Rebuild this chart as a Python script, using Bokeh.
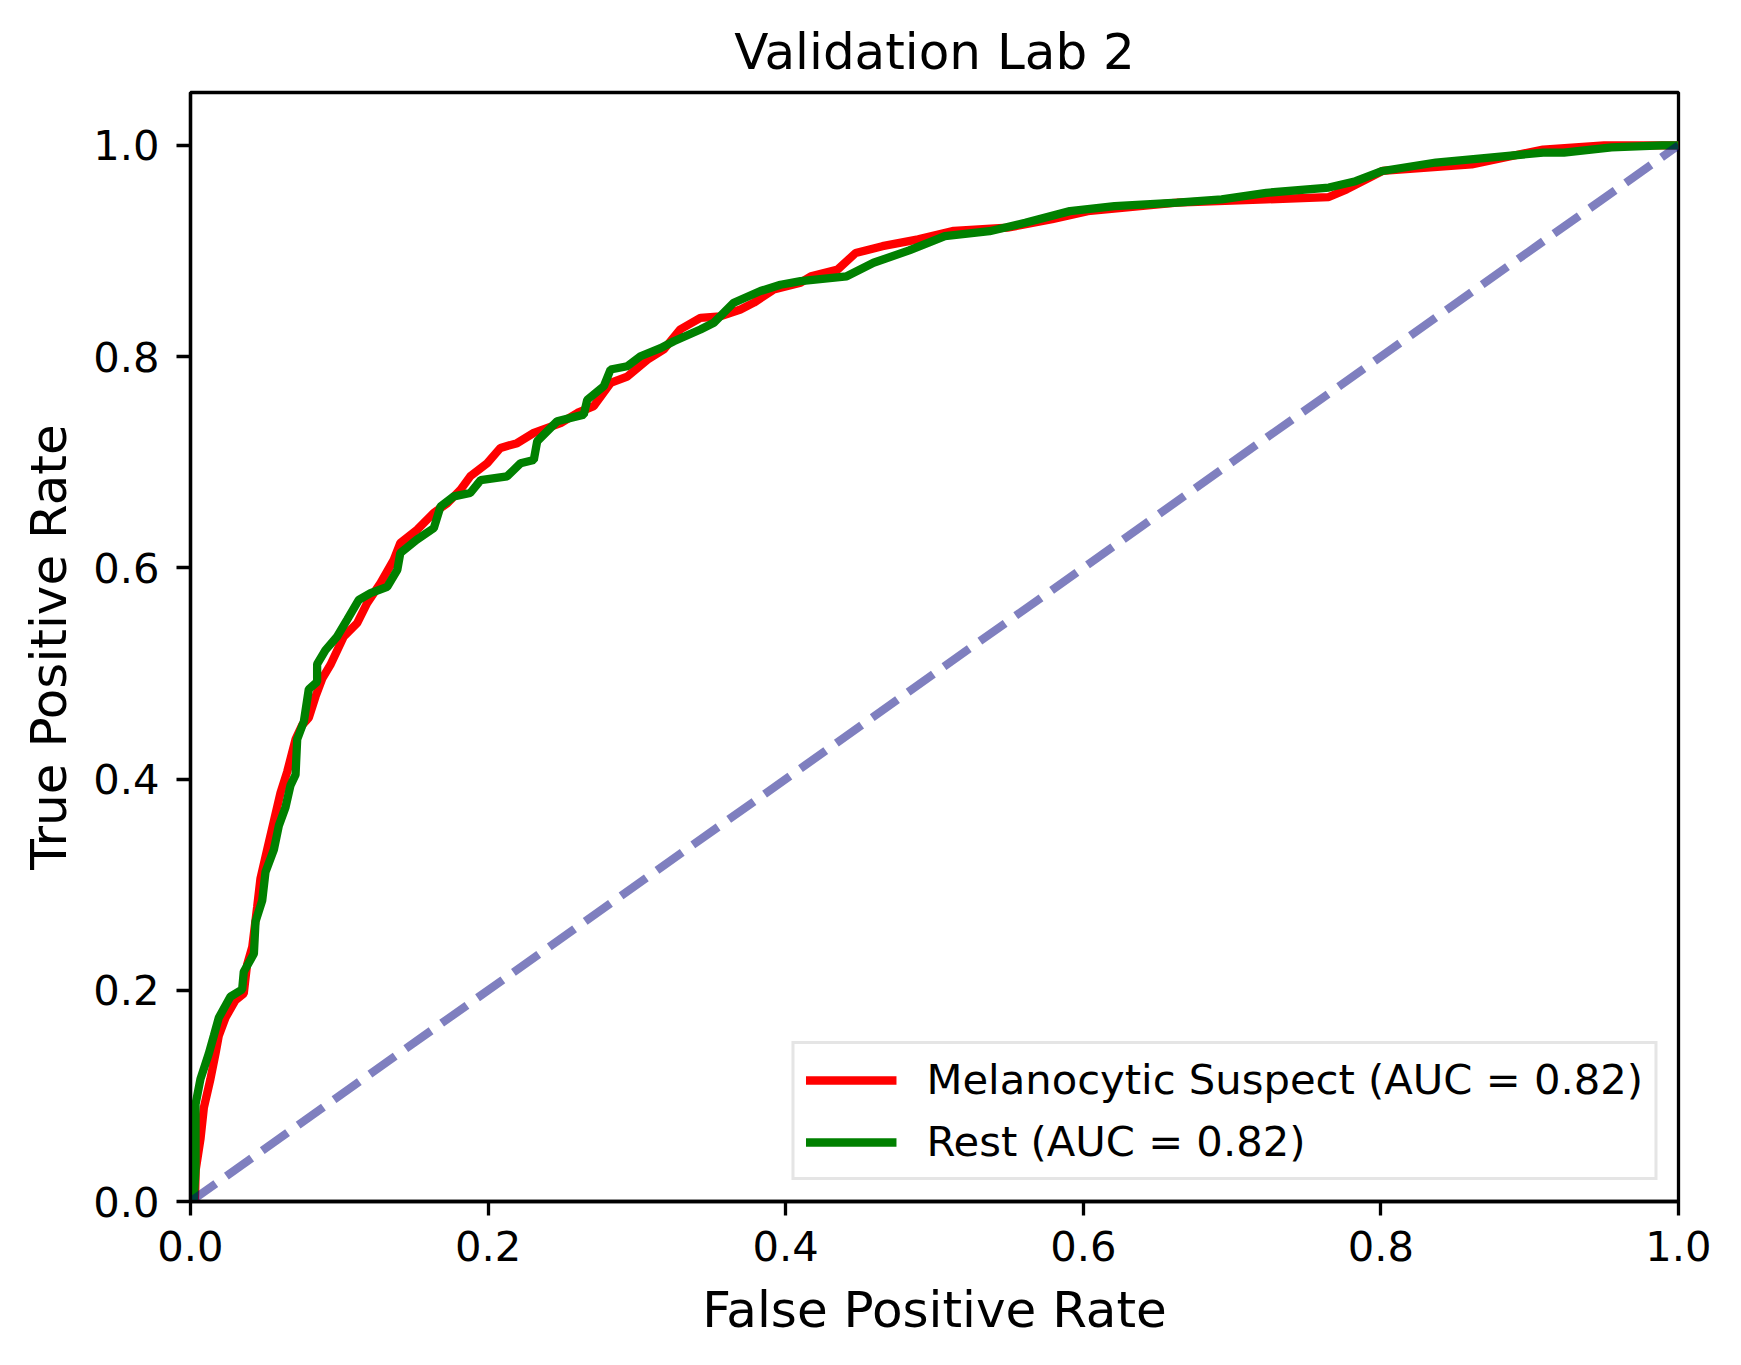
from bokeh.plotting import figure
from bokeh.models import Range1d, FixedTicker, Legend, LegendItem, NumeralTickFormatter
from bokeh.embed import file_html
from bokeh.resources import INLINE

title_text = "Validation Lab 2"
x_label = "False Positive Rate"
y_label = "True Positive Rate"
tick_values = [0.0, 0.2, 0.4, 0.6, 0.8, 1.0]

ms_label = "Melanocytic Suspect (AUC = 0.82)"
ms_fpr = [0.0, 0.003, 0.0035, 0.0067, 0.009, 0.0134, 0.0168, 0.019, 0.0235, 0.0302,
          0.0358, 0.038, 0.0415, 0.0448, 0.047, 0.0515, 0.056, 0.0605, 0.065, 0.0706,
          0.075, 0.0795, 0.084, 0.0885, 0.094, 0.103, 0.112, 0.1187, 0.1277, 0.1366,
          0.141, 0.1523, 0.1635, 0.1725, 0.1815, 0.188, 0.1994, 0.2083, 0.2195, 0.2307,
          0.2487, 0.26, 0.271, 0.2823, 0.2935, 0.307, 0.318, 0.329, 0.3427, 0.356,
          0.3696, 0.3786, 0.392, 0.41, 0.417, 0.435, 0.447, 0.465, 0.489, 0.513,
          0.549, 0.579, 0.603, 0.663, 0.723, 0.765, 0.777, 0.801, 0.861, 0.909,
          0.95, 1.0]
ms_tpr = [0.0, 0.0, 0.03, 0.059, 0.089, 0.116, 0.14, 0.157, 0.174, 0.1905,
          0.197, 0.224, 0.241, 0.279, 0.3056, 0.333, 0.36, 0.387, 0.407, 0.4377,
          0.451, 0.458, 0.478, 0.495, 0.508, 0.535, 0.5476, 0.5665, 0.5855, 0.6076,
          0.6234, 0.636, 0.652, 0.661, 0.674, 0.6866, 0.699, 0.7135, 0.718, 0.7277,
          0.737, 0.7466, 0.753, 0.775, 0.781, 0.797, 0.8066, 0.8256, 0.8367, 0.838,
          0.8445, 0.851, 0.8635, 0.870, 0.876, 0.8825, 0.898, 0.9045, 0.911, 0.919,
          0.922, 0.930, 0.9377, 0.9457, 0.9488, 0.951, 0.9583, 0.9757, 0.982, 0.996,
          1.0, 1.0]

rest_label = "Rest (AUC = 0.82)"
rest_fpr = [0.0, 0.0022, 0.0034, 0.0034, 0.0067, 0.0123, 0.0157, 0.019, 0.0269, 0.0347,
            0.0358, 0.0426, 0.0437, 0.0482, 0.0504, 0.056, 0.0594, 0.0638, 0.0672, 0.0706,
            0.0717, 0.0762, 0.0795, 0.0851, 0.0851, 0.0907, 0.0986, 0.1053, 0.1131, 0.121,
            0.1322, 0.139, 0.141, 0.152, 0.1635, 0.168, 0.177, 0.188, 0.195, 0.2128,
            0.2218, 0.2307, 0.233, 0.2464, 0.2643, 0.2666, 0.2778, 0.2823, 0.2935, 0.3024,
            0.3159, 0.3248, 0.3427, 0.3517, 0.3651, 0.383, 0.3965, 0.41, 0.441, 0.459,
            0.483, 0.507, 0.537, 0.561, 0.591, 0.621, 0.663, 0.693, 0.723, 0.765,
            0.783, 0.801, 0.837, 0.873, 0.909, 0.923, 0.955, 0.989, 1.0]
rest_tpr = [0.0, 0.001, 0.031, 0.092, 0.116, 0.14, 0.157, 0.174, 0.194, 0.2007,
            0.2176, 0.2345, 0.265, 0.285, 0.312, 0.333, 0.356, 0.373, 0.394, 0.404,
            0.4377, 0.4546, 0.485, 0.492, 0.5087, 0.522, 0.535, 0.551, 0.5697, 0.576,
            0.582, 0.598, 0.614, 0.6265, 0.6375, 0.658, 0.6676, 0.6708, 0.683, 0.6866,
            0.699, 0.702, 0.7198, 0.7387, 0.745, 0.759, 0.772, 0.7877, 0.7908, 0.8003,
            0.808, 0.8145, 0.8256, 0.832, 0.851, 0.862, 0.868, 0.8714, 0.876, 0.8888,
            0.9005, 0.914, 0.9187, 0.9267, 0.9377, 0.9425, 0.9457, 0.9488, 0.955, 0.96,
            0.966, 0.9757, 0.9837, 0.9884, 0.993, 0.993, 0.998, 1.0, 1.0]

chance_x = [0.0, 1.0]
chance_y = [0.0, 1.0]

FONT = "DejaVu Sans"

p = figure(width=1725, height=1349, x_range=Range1d(0, 1), y_range=Range1d(0, 1.05),
           output_backend="svg", toolbar_location=None, title=title_text,
           min_border_left=190, min_border_right=47, min_border_top=92, min_border_bottom=148)

p.background_fill_color = "white"
p.border_fill_color = "white"
p.grid.visible = False
p.outline_line_color = "black"
p.outline_line_width = 3.3
p.outline_line_alpha = 1.0

p.title.text_font = FONT
p.title.text_font_size = "50px"
p.title.text_font_style = "normal"
p.title.text_color = "black"
p.title.align = "center"
p.title.standoff = 23

for ax in (p.xaxis[0], p.yaxis[0]):
    ax.ticker = FixedTicker(ticks=tick_values)
    ax.formatter = NumeralTickFormatter(format="0.0")
    ax.axis_line_width = 3.3
    ax.axis_line_color = "black"
    ax.major_tick_line_width = 3.3
    ax.major_tick_line_color = "black"
    ax.major_tick_out = 14
    ax.major_tick_in = 0
    ax.minor_tick_out = 0
    ax.minor_tick_in = 0
    ax.major_label_text_font = FONT
    ax.major_label_text_font_size = "41.7px"
    ax.major_label_text_color = "black"
    ax.axis_label_text_font = FONT
    ax.axis_label_text_font_size = "50px"
    ax.axis_label_text_font_style = "normal"
    ax.axis_label_text_color = "black"

p.xaxis.axis_label = x_label
p.yaxis.axis_label = y_label
p.xaxis.major_label_standoff = 15
p.yaxis.major_label_standoff = 17
p.xaxis.axis_label_standoff = 17
p.yaxis.axis_label_standoff = 12

r_ms = p.line(ms_fpr, ms_tpr, line_color="red", line_width=8.3)
r_rest = p.line(rest_fpr, rest_tpr, line_color="green", line_width=8.3)
p.line(chance_x, chance_y, line_color="navy", line_alpha=0.5, line_width=8.3, line_dash="31 13")

legend = Legend(items=[LegendItem(label=ms_label, renderers=[r_ms]),
                       LegendItem(label=rest_label, renderers=[r_rest])],
                location="bottom_right")
legend.label_text_font = FONT
legend.label_text_font_size = "41.7px"
legend.label_text_color = "black"
legend.glyph_width = 91
legend.glyph_height = 40
legend.label_height = 40
legend.label_standoff = 30
legend.spacing = 13
legend.padding = 11
legend.margin = 21
legend.border_line_color = "#cccccc"
legend.border_line_width = 3
legend.background_fill_alpha = 0.8
p.add_layout(legend)

open("out.html", "w").write(file_html(p, INLINE))
